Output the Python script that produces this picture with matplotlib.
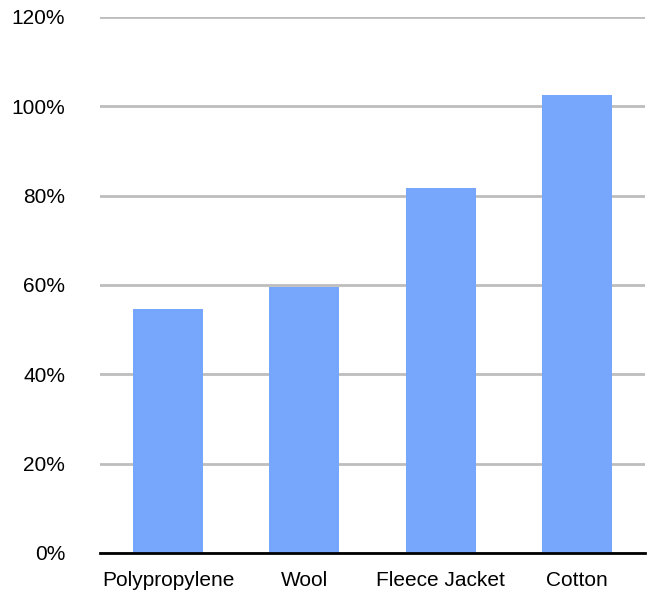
import matplotlib
matplotlib.use("Agg")
import matplotlib.pyplot as plt
from matplotlib.ticker import FuncFormatter

# data
categories = ["Polypropylene", "Wool", "Fleece Jacket", "Cotton"]
values = [0.546, 0.596, 0.818, 1.025]
yticks = [0, 0.2, 0.4, 0.6, 0.8, 1.0, 1.2]

plt.rcParams["font.family"] = ["Liberation Sans", "DejaVu Sans"]

fig = plt.figure(figsize=(6.54, 5.94), dpi=100)
ax = fig.add_axes([100 / 654, 1 - 553 / 594, 545 / 654, 536 / 594])

x = range(len(categories))
ax.bar(x, values, width=0.515, color="#76a7fc", zorder=2)

ax.set_xlim(-0.5, len(categories) - 0.5)
ax.set_ylim(0, 1.2)
ax.set_yticks(yticks)
ax.yaxis.set_major_formatter(FuncFormatter(lambda v, p: f"{v * 100:.0f}%"))
ax.set_xticks(list(x))
ax.set_xticklabels(categories)

ax.grid(axis="y", color="#bdbdbd", linewidth=2, zorder=1)
ax.set_axisbelow(True)
for s in ["top", "right", "left"]:
    ax.spines[s].set_visible(False)
ax.spines["bottom"].set_linewidth(2)
ax.spines["bottom"].set_color("black")
ax.spines["bottom"].set_zorder(3)

ax.tick_params(axis="both", length=0, labelsize=15)
ax.tick_params(axis="y", pad=25)
ax.tick_params(axis="x", pad=13)

fig.savefig("out.png", dpi=100)
